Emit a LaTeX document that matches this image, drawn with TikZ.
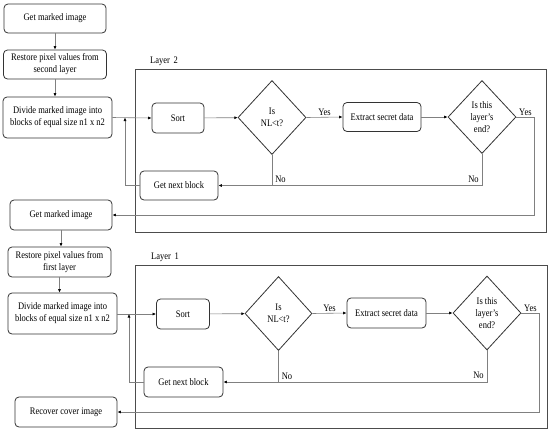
\documentclass[tikz,border=0pt]{standalone}
\usepackage{fontspec}
\setmainfont{Liberation Serif}[FakeStretch=0.85]
\usetikzlibrary{arrows.meta, shapes.geometric, positioning, calc}
\tikzset{
  procbox/.style={draw=black!80, line width=0.8pt, rounded corners=4pt, align=center, inner sep=1pt, minimum height=29pt},
  decision/.style={diamond, draw=black!80, line width=0.8pt, align=center, inner sep=0pt, minimum width=68pt, minimum height=74pt},
  layerbox/.style={draw=black!70, line width=1pt, minimum width=411pt, minimum height=163pt},
  flow/.style={draw=black!50, line width=0.6pt, ->},
  lbl/.style={inner sep=1pt},
}

\begin{document}
\begin{tikzpicture}[x=1pt, y=-1pt, >={Latex[length=3.5pt,width=3pt,color=black]},
                    every node/.style={font=\fontsize{10}{12}\selectfont}]
           \useasboundingbox (0,0) rectangle (550,432);

           \node[procbox, minimum width=102pt] at (55,18.5) (gmi1) {Get marked image};
           \node[procbox, minimum width=103pt] at (55,64.5) (rpv1) {Restore pixel values from\\second layer};
           \node[procbox, minimum width=109pt, minimum height=41pt] at (57.5,117.5) (div1) {Divide marked image into\\blocks of equal size n1 x n2};

           \node[layerbox] at (340.5,150.5) (L2) {};
           \node[lbl] at (164,61) (lab2) {Layer\, 2};
           \node[procbox, minimum width=52pt, minimum height=30pt] at (178,118) (sort1) {Sort};
           \node[decision] at (272,117.5) (dec1) {Is\\NL<t?};
           \node[procbox, minimum width=78pt] at (382,117) (ext1) {Extract secret data};
           \node[decision, minimum height=73pt] at (482,117) (end1) {Is this\\layer’s\\end?};
           \node[procbox, minimum width=78pt] at (179,185.5) (nxt1) {Get next block};
           \coordinate (j1) at (125,117.5);

           \node[procbox, minimum width=102pt, minimum height=30pt] at (61,215) (gmi2) {Get marked image};
           \node[procbox, minimum width=103pt, minimum height=30pt] at (59.5,262) (rpv2) {Restore pixel values from\\first layer};
           \node[procbox, minimum width=109pt, minimum height=41pt] at (62.5,313.5) (div2) {Divide marked image into\\blocks of equal size n1 x n2};

           \node[layerbox, minimum width=412pt] at (341,346.5) (L1) {};
           \node[lbl] at (165,257) (lab1) {Layer\, 1};
           \node[procbox, minimum width=53pt, minimum height=30pt] at (183,314) (sort2) {Sort};
           \node[decision, minimum width=67pt] at (278.5,313.5) (dec2) {Is\\NL<t?};
           \node[procbox, minimum width=79pt, minimum height=30pt] at (386.5,313) (ext2) {Extract secret data};
           \node[decision] at (487,313) (end2) {Is this\\layer’s\\end?};
           \node[procbox, minimum width=79pt, minimum height=30pt] at (183.5,382) (nxt2) {Get next block};
           \coordinate (j2) at (129,314);

           \node[procbox, minimum width=102pt, minimum height=30pt] at (66,412) (rci) {Recover cover image};

           \draw[flow] (gmi1) -- (rpv1);
           \draw[flow] (rpv1.south) -- (rpv1.south |- div1.north);
           \draw[flow] (div1.east) -- (sort1.west);
           \draw[flow] (sort1) -- (dec1);
           \draw[flow] (dec1.east) -- node[lbl, above] {Yes} (ext1.west);
           \draw[flow] (ext1) -- (end1);
           \draw[flow] (end1.east) -- node[lbl, above] {Yes} ++(18,0) |- (gmi2.east);
           \draw[draw=black!50, line width=0.6pt] (dec1.south) -- node[lbl, pos=0.8, right=2pt] {No} (dec1.south |- nxt1.east);
           \draw[flow] (end1.south) -- node[lbl, pos=0.8, left=2pt] {No} (end1.south |- nxt1.east) -- (nxt1.east);
           \draw[flow] (nxt1.west) -| (j1);

           \draw[flow] (gmi2.south) -- (gmi2.south |- rpv2.north);
           \draw[flow] (rpv2.south) -- (rpv2.south |- div2.north);
           \draw[flow] (div2.east |- sort2.west) -- (sort2.west);
           \draw[flow] (sort2) -- (dec2);
           \draw[flow] (dec2.east) -- node[lbl, above] {Yes} (ext2.west);
           \draw[flow] (ext2) -- (end2);
           \draw[flow] (end2.east) -- node[lbl, above] {Yes} ++(18,0) |- (rci.east);
           \draw[draw=black!50, line width=0.6pt] (dec2.south) -- node[lbl, pos=0.8, right=2pt] {No} (dec2.south |- nxt2.east);
           \draw[flow] (end2.south) -- node[lbl, pos=0.8, left=2pt] {No} (end2.south |- nxt2.east) -- (nxt2.east);
           \draw[flow] (nxt2.west) -| (j2);
\end{tikzpicture}
\end{document}
